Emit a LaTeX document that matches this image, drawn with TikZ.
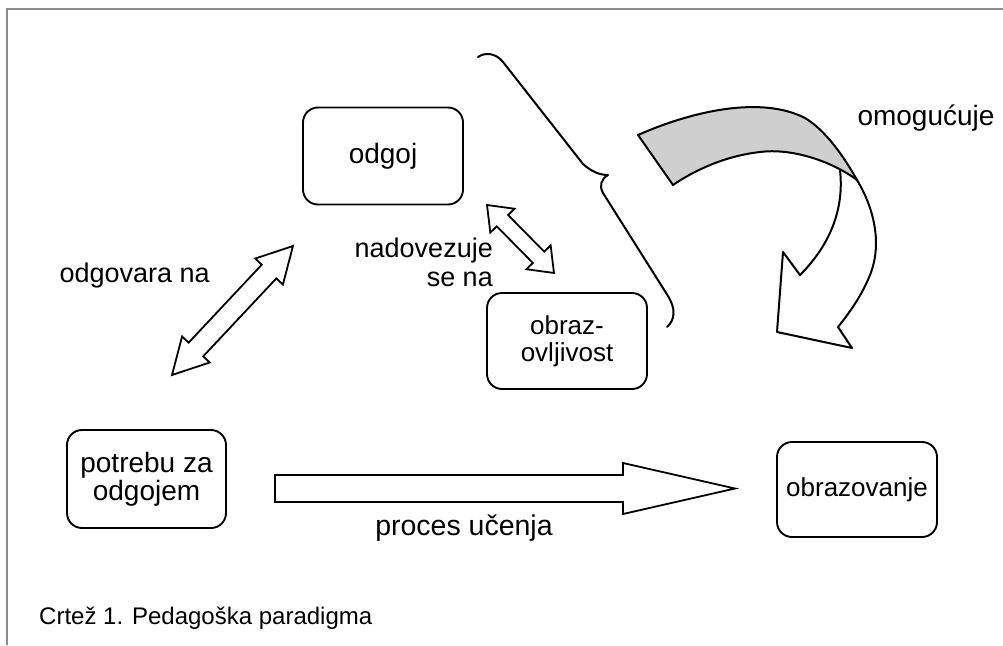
\documentclass[tikz,border=0pt]{standalone}
\usepackage{fontspec}
\setmainfont{Liberation Sans}
\usetikzlibrary{calc}

% block arrow with one head: tail, tip, half shaft width, half head width, head length
\newcommand{\onearrow}[5]{%
  \path[arrowbody] let \p1=(#1), \p2=(#2),
    \n1={atan2(\y2-\y1,\x2-\x1)}, \n2={veclen(\x2-\x1,\y2-\y1)} in
    [shift={(\p1)}, rotate=\n1]
    (0,#3) -- ({\n2-#5},#3) -- ({\n2-#5},#4) -- (\n2,0)
    -- ({\n2-#5},-#4) -- ({\n2-#5},-#3) -- (0,-#3) -- cycle;}

% block arrow with two heads: tip, tip, half shaft width, half head width, head length
\newcommand{\twinarrow}[5]{%
  \path[arrowbody] let \p1=(#1), \p2=(#2),
    \n1={atan2(\y2-\y1,\x2-\x1)}, \n2={veclen(\x2-\x1,\y2-\y1)} in
    [shift={(\p1)}, rotate=\n1]
    (0,0) -- (#5,#4) -- (#5,#3) -- ({\n2-#5},#3) -- ({\n2-#5},#4) -- (\n2,0)
    -- ({\n2-#5},-#4) -- ({\n2-#5},-#3) -- (#5,-#3) -- (#5,-#4) -- cycle;}

\begin{document}
\begin{tikzpicture}[x=1pt,y=-1pt,
  box/.style={draw, line width=1.9pt, rounded corners=15pt, minimum width=160pt,
    minimum height=97pt, align=center, inner sep=0pt},
  lbl/.style={inner sep=0pt},
  arrowbody/.style={draw, fill=white, line width=1.8pt, line join=miter},
  ink/.style={line width=2pt, line cap=round, line join=round},
  frameline/.style={draw=black!45, line width=1.4pt}]

\useasboundingbox (0,0) rectangle (1003,645);
\fill[white] (0,0) rectangle (1003,645);

% outer frame (top and left edges)
\draw[frameline] (1003,9) -- (7,9) -- (7,645);

% concept boxes
\node[box, font={\fontsize{28}{30}\selectfont}] (odgoj) at (383,156) {odgoj};
\node[box, minimum width=159pt, minimum height=98pt,
      font={\fontsize{28}{28}\selectfont\lineskiplimit=-50pt}] (potreba) at (146.5,479) {potrebu za\\odgojem};
\node[box, minimum height=96pt,
      font={\fontsize{26}{27}\selectfont\lineskiplimit=-50pt}] (obrazovljivost) at (567,341) {obraz-\\ovljivost};
\node[box, minimum height=95pt, font={\fontsize{26}{28}\selectfont}] (obrazovanje) at (857,489.5) {obrazovanje};

% relation labels
\node[lbl, anchor=base east, font={\fontsize{27}{27}\selectfont}] (odgovara) at (210,282) {odgovara na};
\node[lbl, anchor=base east, font={\fontsize{27}{27}\selectfont}] (nadovezuje) at (493,257) {nadovezuje};
\node[lbl, anchor=base east, font={\fontsize{27}{27}\selectfont}] (sena) at (493,286) {se na};
\node[lbl, anchor=base, font={\fontsize{28.5}{28.5}\selectfont}] (proces) at (464,535) {proces učenja};
\node[lbl, anchor=base, font={\fontsize{28}{28}\selectfont}] (omogucuje) at (926,125) {omogućuje};
\node[lbl, anchor=base west, font={\fontsize{24}{24}\selectfont}] (caption) at (39,624) {Crtež 1. Pedagoška paradigma};

% block arrows
\coordinate (aLow) at (172,375);
\coordinate (aHigh) at (293,246);
\twinarrow{aLow}{aHigh}{10}{19}{35}

\coordinate (bHigh) at (487,205);
\coordinate (bLow) at (554,273);
\twinarrow{bHigh}{bLow}{8}{17}{22}

\coordinate (pTail) at (275,488.5);
\coordinate (pTip) at (735,488.5);
\onearrow{pTail}{pTip}{13.5}{25.5}{112}

% curly brace
\draw[ink] (478,57) .. controls (485,52) and (496,53) .. (503,62)
  -- (583,164) .. controls (592,172) and (600,175) .. (608,175)
  .. controls (601,179) and (599,186) .. (603,193)
  -- (668,296) .. controls (676,309) and (675,320) .. (667,327);

% curved ribbon arrow: grey upper face
\fill[black!19] (638,135) .. controls (690,112) and (760,95) .. (805,118)
  .. controls (825,130) and (843,155) .. (857,180)
  .. controls (830,160) and (790,148) .. (760,152)
  .. controls (725,156) and (695,170) .. (673,185) -- cycle;
% ribbon outline
\draw[ink] (673,185) -- (638,135) .. controls (690,112) and (760,95) .. (805,118)
  .. controls (825,130) and (843,155) .. (857,180)
  .. controls (875,210) and (882,245) .. (870,275)
  .. controls (862,295) and (850,312) .. (838,327)
  -- (852,348) -- (777,332) -- (783,252) -- (800,275)
  .. controls (825,250) and (845,215) .. (840,170);
\draw[ink] (857,180) .. controls (830,160) and (790,148) .. (760,152)
  .. controls (725,156) and (695,170) .. (673,185);

\end{tikzpicture}
\end{document}
